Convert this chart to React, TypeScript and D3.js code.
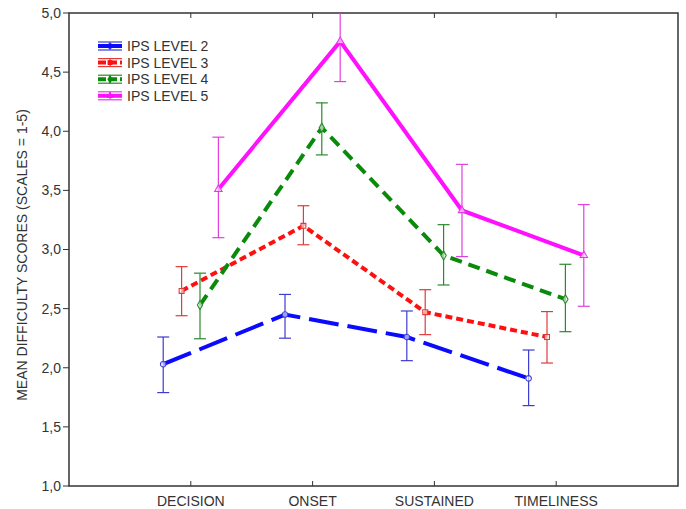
import React from 'react';
import * as d3 from 'd3';

const categories = ['DECISION', 'ONSET', 'SUSTAINED', 'TIMELINESS'];
const seriesNames = ['IPS LEVEL 2', 'IPS LEVEL 3', 'IPS LEVEL 4', 'IPS LEVEL 5'];
const means = [
  [2.03, 2.45, 2.26, 1.91],
  [2.65, 3.2, 2.47, 2.26],
  [2.53, 4.03, 2.95, 2.58],
  [3.51, 4.76, 3.33, 2.95],
];
const lows = [
  [1.79, 2.25, 2.06, 1.68],
  [2.44, 3.04, 2.28, 2.04],
  [2.245, 3.8, 2.7, 2.305],
  [3.1, 4.42, 2.94, 2.52],
];
const highs = [
  [2.26, 2.62, 2.48, 2.15],
  [2.855, 3.37, 2.66, 2.475],
  [2.8, 4.24, 3.21, 2.875],
  [3.95, 5.1, 3.72, 3.38],
];
const yTicks = [1, 1.5, 2, 2.5, 3, 3.5, 4, 4.5, 5];

const lineColors = ['#0a0aff', '#ff1010', '#0a8a0a', '#ff10ff'];
const barColors = ['#3c3cd0', '#e03a3a', '#2a8a2a', '#e040e0'];
const dashes = ['30,9', '7,4', '12,7', 'none'];
const markers = [d3.symbolCircle, d3.symbolSquare, d3.symbolDiamond, d3.symbolTriangle];

const W = 686, H = 509;
const left = 69, right = 678, top = 13, bottom = 486;

export default function App() {
  const x = d3.scalePoint<string>().domain(categories).range([left, right]).padding(1);
  const y = d3.scaleLinear().domain([1, 5]).range([bottom, top]);
  const step = x.step();
  const off = (i: number) => (i - 1.5) * step * 0.151;
  const line = d3.line<[number, number]>().x(d => d[0]).y(d => d[1]);
  const fmt = (v: number) => d3.format('.1f')(v).replace('.', ',');
  const font = '"Liberation Sans", Arial, sans-serif';

  return (
    <svg width={W} height={H} style={{ position: 'absolute', left: 0, top: 0, background: '#fff' }} fontFamily={font}>
      <defs>
        <clipPath id="plot">
          <rect x={left} y={top} width={right - left} height={bottom - top} />
        </clipPath>
      </defs>
      <rect x={left} y={top} width={right - left} height={bottom - top} fill="none" stroke="#333" strokeWidth={1.5} />
      {yTicks.map(t => (
        <g key={t}>
          <line x1={left - 6} x2={left} y1={y(t)} y2={y(t)} stroke="#333" />
          <text x={left - 8} y={y(t)} dy="0.35em" textAnchor="end" fontSize={14} fill="#333">{fmt(t)}</text>
        </g>
      ))}
      {categories.map(c => (
        <g key={c}>
          <line x1={x(c)} x2={x(c)} y1={bottom} y2={bottom - 5} stroke="#333" />
          <line x1={x(c)} x2={x(c)} y1={top} y2={top + 5} stroke="#333" />
          <text x={x(c)} y={506} textAnchor="middle" fontSize={14} fill="#333">{c}</text>
        </g>
      ))}
      <text transform={`translate(27,255) rotate(-90)`} textAnchor="middle" fontSize={14} fill="#333">
        MEAN DIFFICULTY SCORES (SCALES = 1-5)
      </text>
      <g clipPath="url(#plot)">
        {seriesNames.map((s, i) => {
          const pts = categories.map((c, j) => [(x(c) as number) + off(i), y(means[i][j])] as [number, number]);
          return (
            <g key={s}>
              {categories.map((c, j) => {
                const cx = (x(c) as number) + off(i);
                return (
                  <g key={c} stroke={barColors[i]} strokeWidth={1.2}>
                    <line x1={cx} x2={cx} y1={y(lows[i][j])} y2={y(highs[i][j])} />
                    <line x1={cx - 6} x2={cx + 6} y1={y(lows[i][j])} y2={y(lows[i][j])} />
                    <line x1={cx - 6} x2={cx + 6} y1={y(highs[i][j])} y2={y(highs[i][j])} />
                  </g>
                );
              })}
              <path d={line(pts) || ''} fill="none" stroke={lineColors[i]} strokeWidth={4} strokeDasharray={dashes[i]} />
              {pts.map((p, j) => (
                <path key={j} transform={`translate(${p[0]},${p[1]})`} d={d3.symbol(markers[i], 24)() || ''}
                  fill="#fff" fillOpacity={0.6} stroke={barColors[i]} strokeWidth={1.1} />
              ))}
            </g>
          );
        })}
      </g>
      {seriesNames.map((s, i) => {
        const ly = 46 + i * 16.6;
        return (
          <g key={s}>
            <line x1={98} x2={122} y1={ly - 4} y2={ly - 4} stroke={barColors[i]} strokeWidth={1.2} />
            <line x1={98} x2={122} y1={ly + 4} y2={ly + 4} stroke={barColors[i]} strokeWidth={1.2} />
            <line x1={110} x2={110} y1={ly - 4} y2={ly + 4} stroke={barColors[i]} strokeWidth={1.2} />
            <line x1={98} x2={122} y1={ly} y2={ly} stroke={lineColors[i]} strokeWidth={4}
              strokeDasharray={i === 0 || i === 3 ? 'none' : '8,3'} />
            <path transform={`translate(110,${ly})`} d={d3.symbol(markers[i], 24)() || ''} fill={lineColors[i]} />
            <text x={127} y={ly} dy="0.36em" fontSize={14} fill="#333">{s}</text>
          </g>
        );
      })}
    </svg>
  );
}
